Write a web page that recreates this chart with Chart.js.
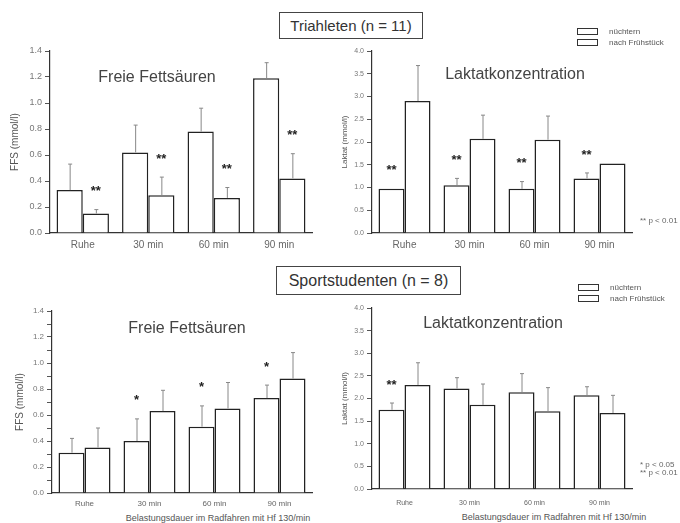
<!DOCTYPE html>
<html>
<head>
<meta charset="utf-8">
<script src="https://cdn.jsdelivr.net/npm/chart.js@4.4.1/dist/chart.umd.min.js"></script>
<style>
  body { margin: 0; width: 680px; height: 523px; background: #fff; position: relative; overflow: hidden;
         font-family: "Liberation Sans", Arial, sans-serif; color: #444; }
  canvas { position: absolute; }
  .txt { position: absolute; white-space: nowrap; }
  .center { transform: translate(-50%, -50%); }
  .group { position: absolute; border: 1px solid #444; display: flex; align-items: center; justify-content: center;
           white-space: nowrap; color: #333; }
  .legend { position: absolute; font-size: 8px; color: #555; line-height: 11px; }
  .legend span.box { display: inline-block; width: 19px; height: 5px; border: 1px solid #333; margin-right: 11px; vertical-align: middle; }
</style>
</head>
<body>

<div class="group" style="left:279px;top:12px;width:142px;height:25px;font-size:15px">Triahleten (n = 11)</div>
<div class="group" style="left:276px;top:266px;width:183px;height:27px;font-size:16px">Sportstudenten (n = 8)</div>

<canvas id="ffsTri" width="330" height="215" style="left:0;top:40px"></canvas>
<canvas id="laktTri" width="330" height="215" style="left:330px;top:40px"></canvas>
<canvas id="ffsSport" width="330" height="215" style="left:0;top:295px"></canvas>
<canvas id="laktSport" width="330" height="215" style="left:330px;top:295px"></canvas>

<div class="txt center" style="left:157px;top:77px;font-size:16px">Freie Fettsäuren</div>
<div class="txt center" style="left:515px;top:74px;font-size:16px">Laktatkonzentration</div>
<div class="txt center" style="left:187px;top:328px;font-size:16px">Freie Fettsäuren</div>
<div class="txt center" style="left:493px;top:323px;font-size:16px">Laktatkonzentration</div>

<div class="legend" style="left:577px;top:26px"><span class="box"></span>nüchtern<br><span class="box"></span>nach Frühstück</div>
<div class="legend" style="left:578px;top:282px"><span class="box"></span>nüchtern<br><span class="box"></span>nach Frühstück</div>

<div class="txt" style="left:640px;top:216px;font-size:8px;color:#666">** p &lt; 0.01</div>
<div class="txt" style="left:640px;top:460px;font-size:8px;color:#666">* p &lt; 0.05</div>
<div class="txt" style="left:640px;top:468px;font-size:8px;color:#666">** p &lt; 0.01</div>

<div class="txt center" style="left:218px;top:518px;font-size:9px;color:#555">Belastungsdauer im Radfahren mit Hf 130/min</div>
<div class="txt center" style="left:554px;top:517px;font-size:9px;color:#555">Belastungsdauer im Radfahren mit Hf 130/min</div>

<script>
// ================= Data =================
const timeLabels = ['Ruhe', '30 min', '60 min', '90 min'];

// Triathleten (n = 11) - Freie Fettsäuren (mmol/l)
const ffsTriNuechtern = [0.33, 0.62, 0.78, 1.19];
const ffsTriNuechternSd = [0.20, 0.21, 0.18, 0.12];
const ffsTriNuechternSig = ['', '', '', ''];
const ffsTriFrueh = [0.15, 0.29, 0.27, 0.42];
const ffsTriFruehSd = [0.03, 0.14, 0.08, 0.19];
const ffsTriFruehSig = ['**', '**', '**', '**'];

// Triathleten (n = 11) - Laktat (mmol/l)
const laktTriNuechtern = [0.97, 1.05, 0.97, 1.20];
const laktTriNuechternSd = [0, 0.15, 0.16, 0.12];
const laktTriNuechternSig = ['**', '**', '**', '**'];
const laktTriFrueh = [2.90, 2.07, 2.05, 1.53];
const laktTriFruehSd = [0.78, 0.52, 0.52, 0];
const laktTriFruehSig = ['', '', '', ''];

// Sportstudenten (n = 8) - Freie Fettsäuren (mmol/l)
const ffsSportNuechtern = [0.31, 0.40, 0.51, 0.73];
const ffsSportNuechternSd = [0.11, 0.17, 0.16, 0.10];
const ffsSportNuechternSig = ['', '*', '*', '*'];
const ffsSportFrueh = [0.35, 0.63, 0.65, 0.88];
const ffsSportFruehSd = [0.15, 0.16, 0.20, 0.20];
const ffsSportFruehSig = ['', '', '', ''];

// Sportstudenten (n = 8) - Laktat (mmol/l)
const laktSportNuechtern = [1.75, 2.22, 2.14, 2.07];
const laktSportNuechternSd = [0.15, 0.24, 0.41, 0.19];
const laktSportNuechternSig = ['**', '', '', ''];
const laktSportFrueh = [2.30, 1.86, 1.72, 1.68];
const laktSportFruehSd = [0.49, 0.46, 0.52, 0.39];
const laktSportFruehSig = ['', '', '', ''];

// ================= Error bars + significance stars =================
const errorBars = {
  id: 'errorBars',
  afterDatasetsDraw(chart) {
    const ctx = chart.ctx;
    const yScale = chart.scales.y;
    chart.data.datasets.forEach((ds, i) => {
      chart.getDatasetMeta(i).data.forEach((bar, j) => {
        const top = yScale.getPixelForValue(ds.data[j] + ds.sd[j]);
        ctx.save();
        if (ds.sd[j] > 0) {
          ctx.strokeStyle = '#888';
          ctx.lineWidth = 1;
          ctx.beginPath();
          ctx.moveTo(bar.x + 0.5, bar.y);
          ctx.lineTo(bar.x + 0.5, top);
          ctx.moveTo(bar.x - 1.5, top);
          ctx.lineTo(bar.x + 2.5, top);
          ctx.stroke();
        }
        if (ds.sig[j]) {
          ctx.fillStyle = '#222';
          ctx.font = 'bold 13px "Liberation Sans"';
          ctx.textAlign = 'center';
          ctx.textBaseline = 'middle';
          ctx.fillText(ds.sig[j], bar.x, top - 18);
        }
        ctx.restore();
      });
    });
  }
};

// ================= Chart builder =================
function barStyle(label, data, sd, sig) {
  return {
    label: label, data: data, sd: sd, sig: sig,
    backgroundColor: '#fff',
    borderColor: '#222',
    borderWidth: 1.5,
    categoryPercentage: 0.8,
    barPercentage: 1.0
  };
}

function barChart(id, nue, nueSd, nueSig, fru, fruSd, fruSig, s) {
  return new Chart(document.getElementById(id), {
    type: 'bar',
    data: {
      labels: timeLabels,
      datasets: [
        barStyle('nüchtern', nue, nueSd, nueSig),
        barStyle('nach Frühstück', fru, fruSd, fruSig)
      ]
    },
    options: {
      responsive: false,
      animation: false,
      layout: { padding: { top: s.padTop, right: s.padRight, left: 0, bottom: 0 } },
      plugins: { legend: { display: false }, title: { display: false }, tooltip: { enabled: false } },
      scales: {
        x: {
          grid: { display: false, drawTicks: false },
          border: { display: true, color: '#333', width: 1.2 },
          ticks: { color: '#666', padding: s.xPad, font: { family: 'Liberation Sans', size: s.xFont } },
          afterFit: sc => { sc.height = s.xHeight; }
        },
        y: {
          min: 0,
          max: s.yMax,
          grid: { drawOnChartArea: false, tickLength: 5, color: '#555' },
          border: { display: true, color: '#333', width: 1.2 },
          ticks: {
            stepSize: s.step,
            color: '#777',
            padding: 3,
            font: { family: 'Liberation Sans', size: s.yFont },
            callback: v => (Math.abs(v / s.labelStep - Math.round(v / s.labelStep)) < 1e-6 ? v.toFixed(1) : '')
          },
          title: {
            display: true,
            text: s.yTitle,
            color: '#555',
            padding: { top: s.titlePad },
            font: { family: 'Liberation Sans', size: s.titleFont }
          },
          afterFit: sc => { sc.width = s.yWidth; }
        }
      }
    },
    plugins: [errorBars]
  });
}

barChart('ffsTri', ffsTriNuechtern, ffsTriNuechternSd, ffsTriNuechternSig, ffsTriFrueh, ffsTriFruehSd, ffsTriFruehSig,
  { padTop: 11, padRight: 18, yWidth: 50, xHeight: 22, xPad: 6, xFont: 10, yFont: 9, yMax: 1.4, step: 0.1, labelStep: 0.2,
    yTitle: 'FFS (mmol/l)', titleFont: 10, titlePad: 9 });

barChart('laktTri', laktTriNuechtern, laktTriNuechternSd, laktTriNuechternSig, laktTriFrueh, laktTriFruehSd, laktTriFruehSig,
  { padTop: 11, padRight: 28, yWidth: 42, xHeight: 22, xPad: 6, xFont: 10, yFont: 7, yMax: 4, step: 0.25, labelStep: 0.5,
    yTitle: 'Laktat (mmol/l)', titleFont: 8, titlePad: 10 });

barChart('ffsSport', ffsSportNuechtern, ffsSportNuechternSd, ffsSportNuechternSig, ffsSportFrueh, ffsSportFruehSd, ffsSportFruehSig,
  { padTop: 16, padRight: 18, yWidth: 52, xHeight: 17, xPad: 6, xFont: 8, yFont: 8, yMax: 1.4, step: 0.1, labelStep: 0.2,
    yTitle: 'FFS (mmol/l)', titleFont: 10, titlePad: 14 });

barChart('laktSport', laktSportNuechtern, laktSportNuechternSd, laktSportNuechternSig, laktSportFrueh, laktSportFruehSd, laktSportFruehSig,
  { padTop: 13, padRight: 28, yWidth: 42, xHeight: 21, xPad: 10, xFont: 7, yFont: 7, yMax: 4, step: 0.25, labelStep: 0.5,
    yTitle: 'Laktat (mmol/l)', titleFont: 8, titlePad: 10 });
</script>
</body>
</html>
